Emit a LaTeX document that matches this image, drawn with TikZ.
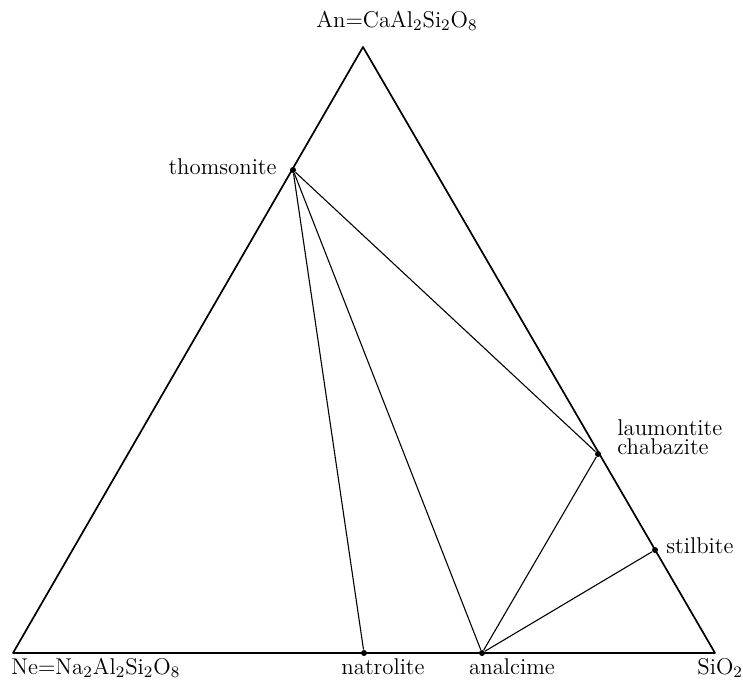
\documentclass[tikz,border=0pt]{standalone}
\begin{document}
\begin{tikzpicture}[x=0.5pt,y=-0.5pt,
  dot/.style={circle,fill=black,inner sep=0pt,minimum size=3pt},
  lbl/.style={inner sep=0pt,font=\fontsize{11.4}{13}\selectfont},
  edge/.style={line width=0.85pt,line join=round},
  tie/.style={line width=0.55pt}]
\useasboundingbox (0,0) rectangle (743,680);
% vertices
\coordinate (An) at (363,47);
\coordinate (Ne) at (13,653);
\coordinate (Si) at (715,653);
% phases
\node[dot] (thom) at (293,170) {};
\node[dot] (laum) at (598,454) {};
\node[dot] (stil) at (655,550) {};
\node[dot] (natr) at (364,653) {};
\node[dot] (anal) at (482,653) {};
% triangle
\draw[edge] (Ne) -- (An) -- (Si) -- cycle;
% tie lines
\draw[tie] (thom) -- (laum);
\draw[tie] (thom) -- (natr);
\draw[tie] (thom) -- (anal);
\draw[tie] (anal) -- (laum);
\draw[tie] (anal) -- (stil);
% labels
\node[lbl,anchor=base] (lAn) at (397,27) {An=CaAl$_2$Si$_2$O$_8$};
\node[lbl,anchor=base west] (lNe) at (11,674) {Ne=Na$_2$Al$_2$Si$_2$O$_8$};
\node[lbl,anchor=base] (lnatr) at (383,674) {natrolite};
\node[lbl,anchor=base] (lanal) at (512,674) {analcime};
\node[lbl,anchor=base west] (lSi) at (697,674) {SiO$_2$};
\node[lbl,anchor=base east] (lthom) at (277,174) {thomsonite};
\node[lbl,anchor=south west,align=left,font=\fontsize{11.4}{9.6}\selectfont] (llaum) at (617,455) {laumontite\\chabazite};
\node[lbl,anchor=base west] (lstil) at (666,553) {stilbite};
\end{tikzpicture}
\end{document}
